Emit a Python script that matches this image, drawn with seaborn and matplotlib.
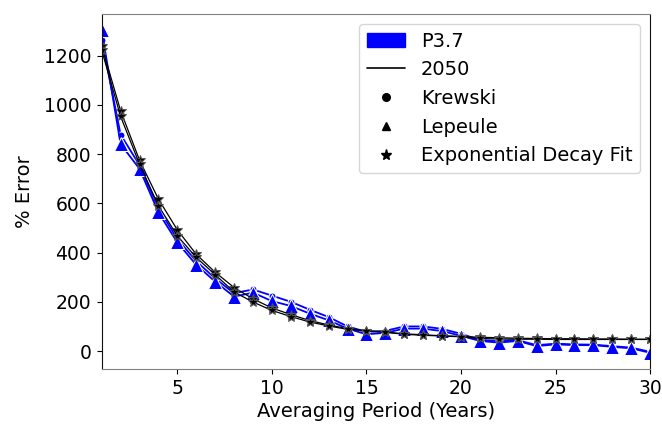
"""
Averaging-period error chart: % error vs averaging period for the
P3.7 and 2050 scenarios (Krewski, Lepeule and exponential decay fit).
"""

import matplotlib
matplotlib.use('Agg')
import matplotlib.pyplot as plt
from matplotlib.lines import Line2D
from matplotlib.patches import Patch
import seaborn as sns

YEARS = list(range(1, 31))

# P3.7 scenario (blue)
P37_KREWSKI = [1265, 879, 755, 580, 455, 365, 295, 235, 250, 225, 200, 168, 138, 100,
               78, 82, 100, 100, 90, 70, 45, 40, 44, 24, 30, 27, 26, 20, 14, -3]
P37_LEPEULE = [1303, 840, 740, 563, 441, 350, 282, 221, 237, 203, 183, 152, 125, 91,
               68, 74, 91, 91, 81, 62, 41, 34, 41, 20, 27, 24, 24, 17, 11, -7]

# 2050 scenario (black), exponential decay fits
FIT_2050_A = [1240, 976, 775, 617, 492, 393, 320, 258, 212, 175, 148, 124, 106, 91,
              83, 77, 70, 66, 62, 59, 56, 54, 52, 51, 50, 50, 49, 49, 48, 48]
FIT_2050_B = [1222, 953, 759, 590, 468, 380, 310, 240, 199, 165, 140, 118, 102, 88,
              81, 76, 68, 64, 61, 58, 51, 49, 48, 48, 47, 47, 47, 47, 47, 47]

COLORS = {'p37': '#0000FF', '2050': '#000000'}


def main():
    sns.set_style("ticks", {"text.color": "black", "axes.labelcolor": "black",
                            "xtick.color": "black", "ytick.color": "black"})
    plt.rcParams['font.family'] = ['DejaVu Sans']

    fig = plt.figure(figsize=(6.62, 4.25), dpi=100)
    ax = fig.add_axes([0.1536, 0.132, 0.8284, 0.835])

    sns.lineplot(x=YEARS, y=P37_KREWSKI, ax=ax, color=COLORS['p37'], marker='o',
                 markersize=5, linewidth=1.3)
    sns.lineplot(x=YEARS, y=P37_LEPEULE, ax=ax, color=COLORS['p37'], marker='^',
                 markersize=10, linewidth=1.3)
    sns.lineplot(x=YEARS, y=FIT_2050_A, ax=ax, color=COLORS['2050'], marker='*',
                 markersize=7, linewidth=0.9, markeredgecolor='#555555')
    sns.lineplot(x=YEARS, y=FIT_2050_B, ax=ax, color=COLORS['2050'], marker='*',
                 markersize=7, linewidth=0.9, markeredgecolor='#555555')

    ax.set_xlim(1, 30)
    ax.set_xticks([5, 10, 15, 20, 25, 30])
    ax.set_yticks([0, 200, 400, 600, 800, 1000, 1200])
    ax.tick_params(labelsize=13.5, pad=4)
    ax.set_xlabel('Averaging Period (Years)', fontsize=14, labelpad=3)
    ax.set_ylabel('% Error', fontsize=14, labelpad=7)

    for side in ['left', 'right']:
        ax.spines[side].set_visible(True)
        ax.spines[side].set_color('#111111')
    for side in ['top', 'bottom']:
        ax.spines[side].set_visible(True)
        ax.spines[side].set_color('#808080')

    handles = [
        Patch(facecolor=COLORS['p37'], edgecolor=COLORS['p37'], label='P3.7'),
        Line2D([], [], color='black', linewidth=1.2, label='2050'),
        Line2D([], [], color='black', marker='o', linestyle='none', markersize=5.5, label='Krewski'),
        Line2D([], [], color='black', marker='^', linestyle='none', markersize=6, label='Lepeule'),
        Line2D([], [], color='black', marker='*', linestyle='none', markersize=8,
               label='Exponential Decay Fit'),
    ]
    ax.legend(handles=handles, loc='upper right', fontsize=14, frameon=True,
              labelspacing=0.5, borderaxespad=0.5)

    fig.savefig('out.png', dpi=100, facecolor='white')


if __name__ == '__main__':
    main()
